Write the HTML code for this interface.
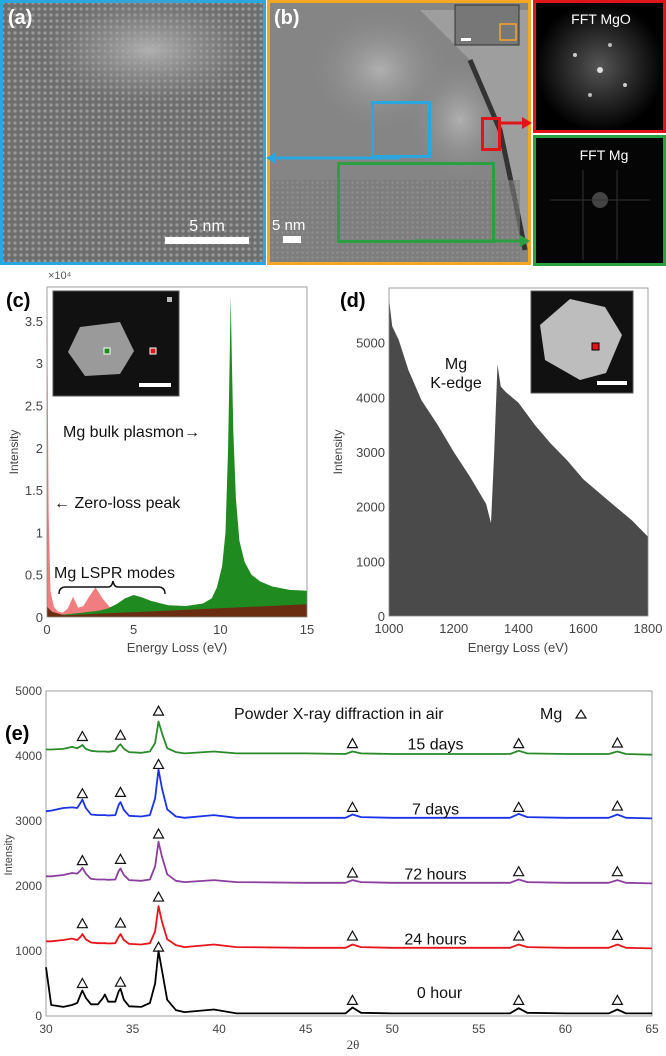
<!DOCTYPE html>
<html><head><meta charset="utf-8"><style>
html,body{margin:0;padding:0;background:#fff;}
svg{display:block;font-family:"Liberation Sans",sans-serif;}
</style></head><body>
<svg id="fig" width="666" height="1056" viewBox="0 0 666 1056">
<defs>
<pattern id="lat" width="6" height="6" patternUnits="userSpaceOnUse"><rect width="6" height="6" fill="#6e6e6e"/><circle cx="3" cy="3" r="1.6" fill="#9a9a9a"/></pattern>
<pattern id="lat2" width="5" height="5" patternUnits="userSpaceOnUse"><rect width="5" height="5" fill="#7a7a7a"/><circle cx="2.5" cy="2.5" r="1.2" fill="#959595"/></pattern>
<radialGradient id="blob" cx="0.5" cy="0.5" r="0.5"><stop offset="0" stop-color="#b0b0b0"/><stop offset="1" stop-color="#8a8a8a" stop-opacity="0"/></radialGradient>
<radialGradient id="fft" cx="0.5" cy="0.5" r="0.5"><stop offset="0" stop-color="#555"/><stop offset="1" stop-color="#000"/></radialGradient>
</defs>

<g>
<rect x="1.5" y="1.5" width="263" height="262" fill="url(#lat)" stroke="#2aa7e0" stroke-width="3"/>
<ellipse cx="150" cy="50" rx="110" ry="55" fill="url(#blob)"/>
<text x="8" y="24" font-size="20" font-weight="bold" fill="#fff">(a)</text>
<rect x="165" y="237" width="84" height="7" fill="#fff"/>
<text x="207" y="231" font-size="16" fill="#fff" text-anchor="middle">5 nm</text>
</g>

<g>
<rect x="268.5" y="1.5" width="261" height="262" fill="#858585" stroke="#f5a623" stroke-width="3"/>
<ellipse cx="380" cy="70" rx="70" ry="60" fill="url(#blob)"/>
<ellipse cx="460" cy="120" rx="50" ry="60" fill="url(#blob)"/>
<path d="M420 10 L470 60 L500 130 L515 200 L528 250 L528 263 L528 10 Z" fill="#9e9e9e"/>
<path d="M470 60 L500 130 L515 200 L525 250" fill="none" stroke="#333" stroke-width="5"/>
<rect x="270" y="180" width="250" height="82" fill="url(#lat2)" opacity="0.6"/>
<text x="274" y="24" font-size="20" font-weight="bold" fill="#fff">(b)</text>
<rect x="455" y="5" width="64" height="40" fill="#777" stroke="#333"/>
<rect x="500" y="24" width="16" height="16" fill="none" stroke="#f5a623" stroke-width="1.5"/>
<rect x="461" y="38" width="10" height="3" fill="#fff"/>
<rect x="372.5" y="102.5" width="57" height="54" fill="none" stroke="#2aa7e0" stroke-width="3"/>
<rect x="338.5" y="163.5" width="155" height="78" fill="none" stroke="#2aa043" stroke-width="3"/>
<rect x="482.5" y="118.5" width="17" height="31" fill="none" stroke="#e0141b" stroke-width="3"/>
<line x1="400" y1="158" x2="272" y2="158" stroke="#2aa7e0" stroke-width="3"/>
<polygon points="266,158 276,152 276,164" fill="#2aa7e0"/>
<line x1="415" y1="241" x2="520" y2="241" stroke="#2aa043" stroke-width="3"/>
<polygon points="530,241 520,235 520,247" fill="#2aa043"/>
<line x1="500" y1="123" x2="522" y2="123" stroke="#e0141b" stroke-width="3"/>
<polygon points="532,123 522,117 522,129" fill="#e0141b"/>
<rect x="283" y="236" width="18" height="7" fill="#fff"/>
<text x="272" y="230" font-size="15" fill="#fff">5 nm</text>
</g>

<g>
<rect x="534.5" y="1.5" width="130" height="130" fill="url(#fft)" stroke="#e0141b" stroke-width="3"/>
<circle cx="600" cy="70" r="3" fill="#ddd"/><circle cx="575" cy="55" r="2" fill="#ccc"/><circle cx="625" cy="85" r="2" fill="#ccc"/><circle cx="610" cy="45" r="2" fill="#bbb"/><circle cx="590" cy="95" r="2" fill="#bbb"/>
<text x="601" y="24" font-size="14" fill="#fff" text-anchor="middle">FFT MgO</text>
</g>
<g>
<rect x="534.5" y="136.5" width="130" height="128" fill="#050505" stroke="#2aa043" stroke-width="3"/>
<circle cx="600" cy="200" r="8" fill="#444"/><line x1="583" y1="170" x2="583" y2="260" stroke="#333"/><line x1="617" y1="170" x2="617" y2="260" stroke="#333"/><line x1="550" y1="200" x2="650" y2="200" stroke="#333"/>
<text x="604" y="160" font-size="14" fill="#fff" text-anchor="middle">FFT Mg</text>
</g>

<g id="chartC"></g>
<g id="chartD"></g>
<g id="chartE"></g>
</svg>
<script>
// ---- chart c data ----
const cEnergy = [0,0.05,0.2,0.5,0.8,1.0,1.3,1.5,1.7,2.0,2.4,2.8,3.1,3.5,4,4.5,5,5.5,6,7,8,9,9.5,9.8,10.1,10.3,10.45,10.55,10.6,10.65,10.75,10.9,11.1,11.4,11.8,12.3,13,14,15];
const cGreen  = [0,0,0,400,300,300,350,400,450,500,600,700,800,1000,1500,2200,2600,2300,1900,1400,1300,1600,2200,3500,6000,10000,20000,32000,38000,32000,22000,14000,9000,6500,5000,4200,3600,3200,3100];
const cRedE   = [0,0.03,0.1,0.2,0.4,0.6,0.9,1.2,1.5,1.8,2.1,2.4,2.8,3.2,3.6,4.0,4.5,15];
const cRed    = [39000,30000,12000,3000,1200,700,500,1000,2400,1100,1300,2300,3500,2200,1200,900,800,1500];
const cBgE    = [0,0.3,1,15];
const cBg     = [1200,600,200,1500];
const cXTicks = [0,5,10,15];
const cYTicks = [0,5000,10000,15000,20000,25000,30000,35000];
const cYLabels= ["0","0.5","1","1.5","2","2.5","3","3.5"];
// ---- chart d data ----
const dEnergy = [1000,1010,1030,1060,1100,1150,1200,1250,1300,1315,1325,1335,1345,1360,1400,1450,1500,1550,1600,1650,1700,1750,1800];
const dInt    = [5800,5300,5050,4500,3950,3500,3000,2550,2050,1700,3000,4600,4200,4100,3900,3500,3150,2850,2500,2250,2000,1750,1450];
const dXTicks = [1000,1200,1400,1600,1800];
const dYTicks = [0,1000,2000,3000,4000,5000];
// ---- chart e data ----
const eX = [30,30.3,31,31.5,31.8,32.0,32.1,32.3,32.6,33,33.3,33.4,33.6,34.0,34.2,34.3,34.5,34.8,35.5,36.0,36.3,36.5,36.7,37.0,37.5,38,39.7,41,45,47.3,47.7,48.2,50,56.8,57.3,57.8,60,62.5,63,63.5,65];
const eHour0  = [750,170,140,170,200,330,390,280,180,180,280,330,220,220,380,420,250,150,140,200,500,1000,700,250,90,60,100,40,40,40,130,50,40,40,120,50,40,40,100,40,40];
const eHour24 = [1150,1150,1170,1190,1170,1220,1260,1180,1130,1120,1120,1120,1115,1120,1220,1260,1170,1110,1100,1120,1300,1690,1450,1180,1090,1060,1100,1060,1050,1050,1100,1060,1050,1050,1100,1060,1050,1050,1100,1050,1040];
const eHour72 = [2150,2150,2170,2200,2190,2240,2280,2190,2110,2100,2100,2100,2095,2100,2230,2270,2170,2090,2080,2100,2300,2680,2450,2180,2080,2060,2090,2060,2050,2050,2090,2060,2050,2050,2100,2060,2050,2050,2090,2050,2040];
const eDay7   = [3150,3160,3200,3210,3200,3280,3330,3200,3100,3090,3090,3090,3085,3090,3250,3290,3170,3080,3070,3090,3350,3790,3500,3180,3070,3050,3090,3050,3050,3050,3100,3060,3050,3050,3110,3060,3050,3050,3100,3050,3040];
const eDay15  = [4100,4100,4110,4140,4120,4150,4170,4110,4080,4070,4070,4070,4065,4080,4160,4180,4110,4060,4050,4070,4200,4530,4350,4120,4060,4040,4070,4040,4040,4030,4070,4040,4030,4030,4080,4040,4030,4030,4070,4030,4020];
const eSeries = [eHour0,eHour24,eHour72,eDay7,eDay15];
const eColors = ["#000","#e8141b","#8b3ea0","#1a32e8","#2a8a2a"];
const eNames  = ["0 hour","24 hours","72 hours","7 days","15 days"];
const eLabelY = [280,1100,2100,3100,4100];
const eTriX   = [32.1,34.3,36.5,47.7,57.3,63.0];
const eTriY   = [[500,520,1060,240,240,240],[1420,1430,1830,1230,1230,1240],[2390,2410,2800,2200,2220,2220],[3420,3440,3870,3210,3210,3230],[4300,4320,4690,4190,4190,4200]];
const eXTicks = [30,35,40,45,50,55,60,65];
const eYTicks = [0,1000,2000,3000,4000,5000];

const NS="http://www.w3.org/2000/svg";
function mk(parent,tag,attrs,text){const e=document.createElementNS(NS,tag);for(const k in attrs)e.setAttribute(k,attrs[k]);if(text!==undefined)e.textContent=text;parent.appendChild(e);return e;}

function axesBox(g,x0,y0,x1,y1){
  const r=mk(g,'rect',{x:x0,y:y0,width:x1-x0,height:y1-y0,fill:'none',stroke:'#888','stroke-width':0.8});
  
  
}
function areaPath(xs,ys,sx,sy,base){
  let d='M'+sx(xs[0])+' '+base;
  for(let i=0;i<xs.length;i++)d+=' L'+sx(xs[i]).toFixed(1)+' '+sy(ys[i]).toFixed(1);
  d+=' L'+sx(xs[xs.length-1])+' '+base+' Z';return d;
}

(function(){
  const g=document.getElementById('chartC');
  const L=47,R=307,T=287,B=617,ymax=39000;
  const sx=v=>L+v/15*(R-L), sy=v=>B-Math.min(v,ymax)/ymax*(B-T);
  const pr=mk(g,'path',{d:areaPath(cRedE,cRed,sx,sy,B),fill:'#f07d80'});
  
  
  const pg=mk(g,'path',{d:areaPath(cEnergy,cGreen,sx,sy,B),fill:'#1f8a1f'});
  
  
  const pb=mk(g,'path',{d:areaPath(cBgE,cBg,sx,sy,B),fill:'#6b2d12'});
  
  
  axesBox(g,L,T,R,B);
  cXTicks.forEach(v=>{const t=mk(g,'text',{x:sx(v),y:B+17,'font-size':13,fill:'#444','text-anchor':'middle'},String(v));
    
    });
  cYTicks.forEach((v,i)=>{const t=mk(g,'text',{x:L-4,y:sy(v)+5,'font-size':13,fill:'#444','text-anchor':'end'},cYLabels[i]);
    
    });
  mk(g,'text',{x:48,y:279,'font-size':11,fill:'#555'},'×10⁴');
  const xt=mk(g,'text',{x:177,y:652,'font-size':13,fill:'#444','text-anchor':'middle'},'Energy Loss (eV)');
  
  
  const yt=mk(g,'text',{x:18,y:452,'font-size':12,fill:'#444','text-anchor':'middle',transform:'rotate(-90 18 452)'},'Intensity');
  
  
  mk(g,'text',{x:6,y:307,'font-size':20,'font-weight':'bold',fill:'#000'},'(c)');
  mk(g,'rect',{x:53,y:291,width:126,height:105,fill:'#111',stroke:'#555'});
  mk(g,'polygon',{points:'80,327 120,322 134,351 120,374 85,376 68,352',fill:'#9a9a9a'});
  mk(g,'rect',{x:104,y:348,width:6,height:6,fill:'#1f8a1f',stroke:'#fff'});
  mk(g,'rect',{x:150,y:348,width:6,height:6,fill:'#e0141b',stroke:'#fff'});
  mk(g,'rect',{x:139,y:383,width:32,height:4,fill:'#fff'});
  mk(g,'rect',{x:167,y:297,width:5,height:5,fill:'#bbb'});
  mk(g,'text',{x:63,y:437,'font-size':16,fill:'#111'},'Mg bulk plasmon→');
  mk(g,'text',{x:54,y:508,'font-size':16,fill:'#111'},'← Zero-loss peak');
  mk(g,'text',{x:54,y:578,'font-size':16,fill:'#111'},'Mg LSPR modes');
  mk(g,'path',{d:'M59 594 Q59 587 66 587 L108 587 Q112 587 113 581 Q114 587 118 587 L158 587 Q165 587 165 594',fill:'none',stroke:'#111','stroke-width':1.5});
})();

(function(){
  const g=document.getElementById('chartD');
  const L=389,R=648,T=288,B=616,ymax=6000;
  const sx=v=>L+(v-1000)/800*(R-L), sy=v=>B-v/ymax*(B-T);
  const p=mk(g,'path',{d:areaPath(dEnergy,dInt,sx,sy,B),fill:'#4a4a4a'});
  
  
  axesBox(g,L,T,R,B);
  dXTicks.forEach(v=>{const t=mk(g,'text',{x:sx(v),y:B+17,'font-size':13,fill:'#444','text-anchor':'middle'},String(v));
    
    });
  dYTicks.forEach(v=>{const t=mk(g,'text',{x:L-4,y:sy(v)+5,'font-size':13,fill:'#444','text-anchor':'end'},String(v));
    
    });
  const xt=mk(g,'text',{x:518,y:652,'font-size':13,fill:'#444','text-anchor':'middle'},'Energy Loss (eV)');
  
  
  const yt=mk(g,'text',{x:342,y:452,'font-size':12,fill:'#444','text-anchor':'middle',transform:'rotate(-90 342 452)'},'Intensity');
  
  
  mk(g,'text',{x:340,y:307,'font-size':20,'font-weight':'bold',fill:'#000'},'(d)');
  mk(g,'text',{x:456,y:369,'font-size':16,fill:'#111','text-anchor':'middle'},'Mg');
  mk(g,'text',{x:456,y:388,'font-size':16,fill:'#111','text-anchor':'middle'},'K-edge');
  mk(g,'rect',{x:531,y:291,width:102,height:102,fill:'#111',stroke:'#555'});
  mk(g,'polygon',{points:'570,299 605,307 622,335 606,373 580,380 545,360 540,325',fill:'#bdbdbd'});
  mk(g,'rect',{x:592,y:343,width:7,height:7,fill:'#e0141b',stroke:'#000'});
  mk(g,'rect',{x:597,y:381,width:30,height:4,fill:'#fff'});
})();

(function(){
  const g=document.getElementById('chartE');
  const L=46,R=652,T=691,B=1016;
  const sx=v=>L+(v-30)/35*(R-L), sy=v=>B-v/5000*(B-T);
  axesBox(g,L,T,R,B);
  eSeries.forEach((s,i)=>{
    let d='';s.forEach((v,j)=>{d+=(j?' L':'M')+sx(eX[j]).toFixed(1)+' '+sy(v).toFixed(1);});
    const p=mk(g,'path',{d:d,fill:'none',stroke:eColors[i],'stroke-width':1.8,'stroke-linejoin':'round'});
    
    
    const t=mk(g,'text',{x:sx(47.3)+(i==0?4:0),y:sy(eLabelY[i]),'font-size':16,fill:'#111','text-anchor':'middle',dx:90},eNames[i]);
    
    
    eTriX.forEach((x,k)=>{
      const cx=sx(x),cy=sy(eTriY[i][k]);
      const tr=mk(g,'polygon',{points:`${cx-5},${cy+4} ${cx+5},${cy+4} ${cx},${cy-5}`,fill:'none',stroke:'#111','stroke-width':1.2});
      
      
    });
  });
  eXTicks.forEach(v=>{const t=mk(g,'text',{x:sx(v),y:B+17,'font-size':12,fill:'#444','text-anchor':'middle'},String(v));
    
    });
  eYTicks.forEach(v=>{const t=mk(g,'text',{x:L-4,y:sy(v)+4,'font-size':12,fill:'#444','text-anchor':'end'},String(v));
    
    });
  const xt=mk(g,'text',{x:353,y:1049,'font-size':13,fill:'#444','text-anchor':'middle','font-family':'Liberation Serif'},'2θ');
  
  
  const yt=mk(g,'text',{x:12,y:855,'font-size':11,fill:'#444','text-anchor':'middle',transform:'rotate(-90 12 855)'},'Intensity');
  
  
  mk(g,'text',{x:5,y:740,'font-size':20,'font-weight':'bold',fill:'#000'},'(e)');
  mk(g,'text',{x:234,y:719,'font-size':16,fill:'#111'},'Powder X-ray diffraction in air');
  mk(g,'text',{x:540,y:719,'font-size':16,fill:'#111'},'Mg');
  mk(g,'polygon',{points:'576,718 586,718 581,710',fill:'none',stroke:'#111','stroke-width':1.2});
})();
</script>
</body></html>
